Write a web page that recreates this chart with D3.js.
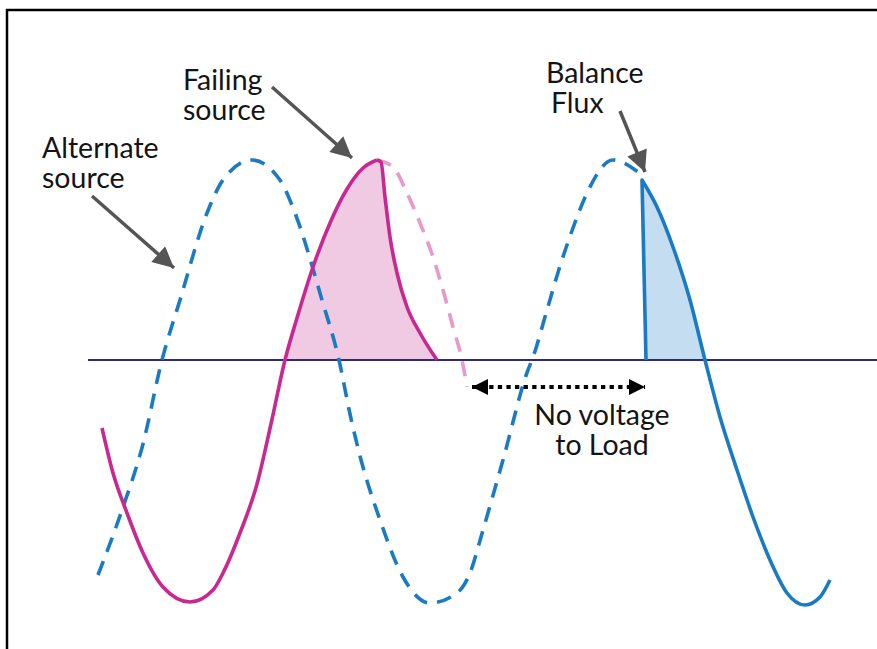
<!DOCTYPE html>
<html>
<head>
<meta charset="utf-8">
<script src="https://cdn.jsdelivr.net/npm/d3@7"></script>
<style>
  body { margin: 0; background: #fff; }
  svg { display: block; }
  .label { font-family: Lato, "Open Sans", sans-serif; font-size: 28.5px; fill: #141414; }
</style>
</head>
<body>
<div class="chart"></div>
<script>
var width = 877;
var height = 649;

// x in phase units (0 = left end of the baseline), v in per-unit voltage
var alternateDashed = [
  [10, -1.075], [34, -0.75], [55, -0.42], [74, 0], [92, 0.3], [119, 0.735], [135, 0.9],
  [164, 1.0], [192, 0.9], [207, 0.735], [234, 0.3], [251, 0], [262, -0.27], [272, -0.48],
  [292, -0.8], [315, -1.085], [342, -1.215], [369, -1.165], [382, -1.065], [395, -0.85],
  [415, -0.5], [440, -0.05], [444, 0], [459, 0.25], [472, 0.47], [485, 0.66], [499, 0.835],
  [525, 1.0], [550, 0.94]
];
var alternateSolid = [
  [554, 0.9], [569, 0.765], [585, 0.565], [602, 0.3], [617, 0], [632, -0.285],
  [649, -0.55], [665, -0.785], [682, -1.0], [699, -1.165], [717, -1.225], [732, -1.185], [742, -1.1]
];
var failingSolid = [
  [14, -0.34], [25, -0.565], [39, -0.765], [55, -0.965], [75, -1.135], [102, -1.21],
  [125, -1.15], [135, -1.065], [152, -0.865], [169, -0.62], [183, -0.32], [197, 0],
  [209, 0.21], [225, 0.465], [242, 0.685], [259, 0.855], [275, 0.96], [289, 1.0]
];
var failingDecay = [
  [289, 1.0], [293, 0.99], [297, 0.815], [302, 0.615], [309, 0.435], [319, 0.265],
  [332, 0.135], [349, 0]
];
var failingDashed = [
  [289, 1.0], [305, 0.965], [319, 0.835], [332, 0.685], [345, 0.515], [355, 0.35],
  [365, 0.165], [374, 0], [379, -0.135]
];
var fluxEdge = [[558, 0], [554, 0.9]];

var labels = [
  { lines: ["Failing", "source"], x: [183, 183], y: 90, anchor: "start" },
  { lines: ["Alternate", "source"], x: [42, 42], y: 158, anchor: "start" },
  { lines: ["Balance", "Flux"], x: [546, 551], y: 83, anchor: "start" },
  { lines: ["No voltage", "to Load"], x: [602, 602], y: 425, anchor: "middle" }
];
var pointers = [
  { from: [272, 87], to: [352, 158] },
  { from: [92, 196], to: [174, 268] },
  { from: [620, 111], to: [645, 172] }
];
var gap = { from: [384, -0.135], to: [557, -0.135] };

var xScale = d3.scaleLinear().domain([0, 789]).range([88, 877]);
var yScale = d3.scaleLinear().domain([-1.215, 1]).range([603, 160]);

var svg = d3.select(".chart").append("svg")
  .attr("width", width)
  .attr("height", height);

var defs = svg.append("defs");
defs.append("marker")
  .attr("id", "grayHead")
  .attr("viewBox", "0 0 10 10")
  .attr("refX", 10).attr("refY", 5)
  .attr("markerWidth", 6.2).attr("markerHeight", 6)
  .attr("markerUnits", "strokeWidth")
  .attr("orient", "auto")
  .append("path").attr("d", "M0,0L10,5L0,10Z").attr("fill", "#555");
defs.append("marker")
  .attr("id", "blackHead")
  .attr("viewBox", "0 0 10 10")
  .attr("refX", 10).attr("refY", 5)
  .attr("markerWidth", 4.3).attr("markerHeight", 4.3)
  .attr("markerUnits", "strokeWidth")
  .attr("orient", "auto-start-reverse")
  .append("path").attr("d", "M0,0L10,5L0,10Z").attr("fill", "#000");

var line = d3.line()
  .curve(d3.curveMonotoneX)
  .x(function (d) { return xScale(d[0]); })
  .y(function (d) { return yScale(d[1]); });
var straight = d3.line()
  .x(function (d) { return xScale(d[0]); })
  .y(function (d) { return yScale(d[1]); });

// frame
svg.append("path")
  .attr("d", "M7," + height + "V10H" + width)
  .attr("fill", "none")
  .attr("stroke", "#000")
  .attr("stroke-width", 2.5);

// fills
var pinkArea = failingSolid.filter(function (d) { return d[0] >= 197; }).concat(failingDecay.slice(1));
svg.append("path")
  .attr("d", line(pinkArea) + "Z")
  .attr("fill", "#f0c9e3");
svg.append("path")
  .attr("d", straight(fluxEdge) + line(alternateSolid.slice(0, 5)).replace("M", "L") + "Z")
  .attr("fill", "#c4ddf0");

// baseline
svg.append("line")
  .attr("x1", xScale(0)).attr("x2", xScale(789))
  .attr("y1", yScale(0)).attr("y2", yScale(0))
  .attr("stroke", "#2d2b80")
  .attr("stroke-width", 2);

// curves
svg.append("path")
  .attr("d", line(failingDashed))
  .attr("fill", "none")
  .attr("stroke", "#e898c9")
  .attr("stroke-width", 3.6)
  .attr("stroke-dasharray", "15,10");
svg.append("path")
  .attr("d", line(alternateDashed))
  .attr("fill", "none")
  .attr("stroke", "#1a7bc2")
  .attr("stroke-width", 3.6)
  .attr("stroke-dasharray", "15,10");
svg.append("path")
  .attr("d", line(failingSolid))
  .attr("fill", "none")
  .attr("stroke", "#c8288f")
  .attr("stroke-width", 3.6);
svg.append("path")
  .attr("d", line(failingDecay))
  .attr("fill", "none")
  .attr("stroke", "#c8288f")
  .attr("stroke-width", 3.6);
svg.append("path")
  .attr("d", straight(fluxEdge) + line(alternateSolid).replace("M", "L"))
  .attr("fill", "none")
  .attr("stroke", "#1a7bc2")
  .attr("stroke-width", 3.6)
  .attr("stroke-linejoin", "round");

// pointers
svg.selectAll(".pointer")
  .data(pointers)
  .enter().append("line")
  .attr("class", "pointer")
  .attr("x1", function (d) { return d.from[0]; })
  .attr("y1", function (d) { return d.from[1]; })
  .attr("x2", function (d) { return d.to[0]; })
  .attr("y2", function (d) { return d.to[1]; })
  .attr("stroke", "#555")
  .attr("stroke-width", 3.5)
  .attr("marker-end", "url(#grayHead)");

// no-voltage gap
svg.append("line")
  .attr("x1", xScale(gap.from[0])).attr("y1", yScale(gap.from[1]))
  .attr("x2", xScale(gap.to[0])).attr("y2", yScale(gap.to[1]))
  .attr("stroke", "#000")
  .attr("stroke-width", 3.8)
  .attr("stroke-dasharray", "4.3,4.3")
  .attr("marker-start", "url(#blackHead)")
  .attr("marker-end", "url(#blackHead)");

// labels, one text per line
labels.forEach(function (l) {
  l.lines.forEach(function (s, i) {
    svg.append("text")
      .attr("class", "label")
      .attr("x", l.x[i])
      .attr("y", l.y + i * 30)
      .attr("text-anchor", l.anchor)
      .text(s);
  });
});
</script>
</body>
</html>
